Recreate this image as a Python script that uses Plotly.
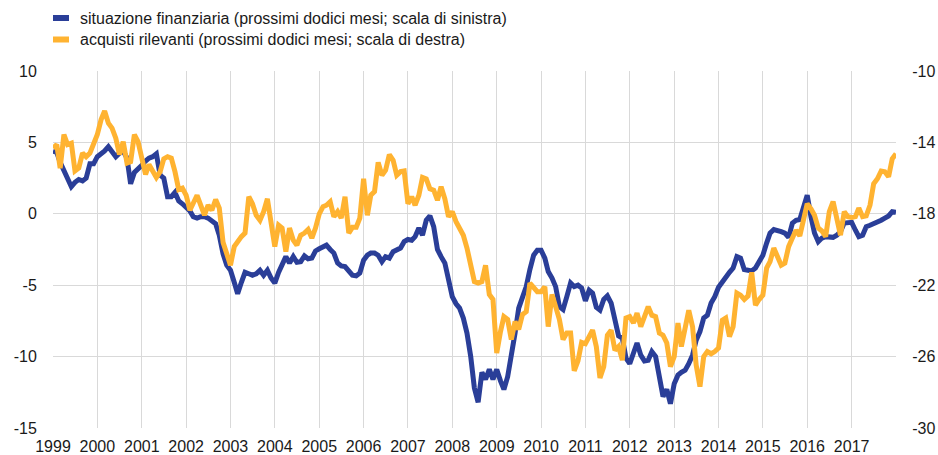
import pandas as pd
import plotly.graph_objects as go

# Monthly observations, January 1999 - January 2018
months = pd.date_range("1999-01-01", "2018-01-01", freq="MS").strftime("%Y-%m-%d").tolist()

# situazione finanziaria (prossimi dodici mesi; scala di sinistra)
situazione = [
    4.4, 4.3, 3.6, 3.0, 2.4, 1.9, 2.2, 2.4, 2.3, 2.5, 3.5, 3.5,
    4.0, 4.2, 4.4, 4.7, 4.4, 4.0, 4.25, 4.4, 3.9, 2.1, 2.9, 3.1,
    3.4, 3.7, 3.9, 4.0, 4.2, 2.7, 2.5, 1.2, 1.2, 1.5, 0.9, 0.7,
    0.5, 0.2, -0.2, -0.3, -0.2, -0.2, -0.3, -0.5, -0.7, -1.5, -2.8, -3.6,
    -3.95, -4.8, -5.6, -4.8, -4.1, -4.2, -4.3, -4.2, -3.95, -4.3, -3.95, -4.5,
    -4.85, -4.1, -3.5, -3.0, -3.45, -3.0, -3.4, -3.35, -2.95, -3.15, -3.1, -2.6,
    -2.45, -2.3, -2.2, -2.5, -2.75, -3.45, -3.65, -3.7, -4.05, -4.3, -4.35, -4.15,
    -3.25, -2.9, -2.75, -2.75, -2.9, -3.35, -3.0, -3.1, -2.65, -2.55, -2.4, -1.95,
    -1.8, -1.85, -1.6, -1.0, -1.5, -0.45, -0.15, -0.9, -2.5, -3.0, -3.45, -4.6,
    -5.8, -6.3, -6.6, -7.3, -8.35, -10.0, -12.2, -13.2, -11.1, -11.6, -10.9, -11.6,
    -10.9, -11.7, -12.3, -11.4, -10.0, -8.35, -6.6, -5.7, -5.1, -3.9, -2.9, -2.55,
    -2.55, -3.1, -4.05, -4.5, -5.1, -6.5, -6.7, -5.8, -4.85, -5.1, -5.0, -5.2,
    -6.1, -5.35, -5.55, -6.55, -6.75, -6.0, -5.75, -6.25, -7.45, -8.55, -8.7, -10.1,
    -10.5, -9.65, -9.05, -9.9, -10.3, -10.25, -9.65, -10.0, -11.6, -12.8, -12.3, -13.3,
    -11.9, -11.3, -11.1, -10.95, -10.5, -9.9, -8.85, -8.25, -7.3, -7.1, -6.25, -5.8,
    -5.15, -4.75, -4.5, -4.1, -3.8, -3.0, -3.1, -3.9, -3.95, -4.0, -3.8, -3.4,
    -2.9, -2.05, -1.35, -1.1, -1.15, -1.25, -1.35, -1.65, -0.65, -0.45, -0.4, 0.5,
    1.3, -0.2, -1.35, -1.95, -1.7, -1.6, -1.65, -1.65, -1.5, -1.25, -0.65, -0.6,
    -0.6, -1.15, -1.6, -1.5, -0.9, -0.8, -0.7, -0.55, -0.45, -0.3, -0.15, 0.15,
    0.1,
]

# acquisti rilevanti (prossimi dodici mesi; scala di destra)
acquisti = [
    -14.32, -14.12, -15.44, -13.56, -14.12, -14.04, -15.6, -15.44, -14.6, -14.8, -14.6, -14.12,
    -13.56, -12.72, -12.24, -12.92, -13.2, -13.76, -14.68, -13.96, -15.16, -15.08, -13.56, -13.96,
    -14.8, -15.8, -15.24, -15.64, -15.96, -15.64, -14.92, -14.8, -14.88, -15.64, -16.64, -16.56,
    -16.96, -17.8, -17.32, -16.96, -17.52, -18.08, -17.52, -17.8, -17.2, -17.68, -19.6, -20.24,
    -20.88, -19.84, -19.56, -19.28, -19.08, -17.04, -17.44, -18.08, -18.36, -17.88, -17.16, -18.36,
    -19.84, -18.64, -18.8, -20.12, -18.8, -19.48, -19.76, -19.2, -19.08, -18.88, -19.36, -18.8,
    -18.0, -17.6, -17.52, -17.32, -18.16, -17.88, -18.24, -17.04, -19.08, -18.76, -18.76, -18.24,
    -16.04, -18.08, -16.96, -16.76, -15.12, -15.84, -15.56, -14.68, -15.0, -15.84, -15.64, -15.6,
    -17.44, -17.04, -17.52, -16.96, -15.96, -16.04, -16.6, -16.68, -17.24, -16.48, -17.16, -18.16,
    -17.88, -18.44, -18.8, -19.2, -19.92, -20.76, -21.8, -21.88, -21.8, -20.88, -22.52, -22.8,
    -25.8, -24.6, -23.76, -23.92, -25.04, -24.04, -24.48, -23.64, -23.48, -21.88, -22.16, -22.36,
    -22.36, -22.08, -24.32, -22.52, -23.2, -23.92, -25.04, -24.68, -24.68, -26.8, -26.24, -25.2,
    -25.28, -24.88, -24.52, -25.44, -27.2, -26.56, -24.8, -24.52, -25.64, -25.44, -26.2, -23.84,
    -23.76, -24.12, -23.56, -24.32, -23.68, -23.2, -23.68, -23.76, -24.68, -24.8, -25.24, -26.56,
    -26.0, -24.12, -25.44, -24.4, -23.4, -24.32, -26.48, -27.68, -26.0, -25.72, -25.84, -25.72,
    -25.52, -23.96, -23.84, -24.88, -24.32, -22.44, -22.56, -22.8, -22.6, -21.28, -23.12, -22.8,
    -22.56, -21.04, -20.68, -19.92, -20.32, -20.88, -20.76, -19.84, -19.36, -18.92, -19.24, -18.36,
    -17.44, -17.72, -18.08, -18.8, -18.96, -19.28, -17.88, -17.32, -18.36, -19.2, -17.88, -18.16,
    -18.2, -18.16, -17.68, -18.16, -18.12, -17.52, -16.32, -16.04, -15.6, -15.64, -15.92, -14.92,
    -14.64,
]

series_names = [
    "situazione finanziaria (prossimi dodici mesi; scala di sinistra)",
    "acquisti rilevanti (prossimi dodici mesi; scala di destra)",
]

year_ticks = [f"{y}-01-01" for y in range(1999, 2019)]
year_labels = [str(y) for y in range(1999, 2018)] + [""]
left_ticks = [-15, -10, -5, 0, 5, 10]
right_ticks = [-30, -26, -22, -18, -14, -10]

BLUE = "#2a3e98"
ORANGE = "#ffb331"
GRID = "#d9d9d9"
TEXT = "#1a1a1a"
FONT = "Liberation Sans, Arial, sans-serif"

# plot area in pixels
W, H = 938, 455
L, R, T, B = 53, 42, 71, 27
PW, PH = W - L - R, H - T - B


def px_x(x):
    return (x - L) / PW


def px_y(y):
    return (H - B - y) / PH


fig = go.Figure()
fig.add_trace(go.Scatter(
    x=months, y=situazione, mode="lines", name=series_names[0],
    line=dict(color=BLUE, width=5), yaxis="y", showlegend=False,
))
fig.add_trace(go.Scatter(
    x=months, y=acquisti, mode="lines", name=series_names[1],
    line=dict(color=ORANGE, width=5), yaxis="y2", showlegend=False,
))

# legend drawn as swatches + text
shapes = []
annotations = []
for name, color, yc in [(series_names[0], BLUE, 18), (series_names[1], ORANGE, 39.5)]:
    shapes.append(dict(
        type="rect", xref="paper", yref="paper",
        x0=px_x(53), x1=px_x(69), y0=px_y(yc - 3), y1=px_y(yc + 3),
        fillcolor=color, line=dict(width=0),
    ))
    annotations.append(dict(
        xref="paper", yref="paper", x=px_x(78), y=px_y(yc),
        xanchor="left", yanchor="middle", showarrow=False,
        text=name, font=dict(size=16, color=TEXT, family=FONT),
    ))

fig.update_layout(
    width=W, height=H,
    margin=dict(l=L, r=R, t=T, b=B, autoexpand=False),
    paper_bgcolor="white", plot_bgcolor="white",
    font=dict(family=FONT, size=16, color=TEXT),
    showlegend=False,
    hovermode=False,
    shapes=shapes,
    annotations=annotations,
    xaxis=dict(
        type="date", range=["1999-01-01", "2018-01-01"],
        tickvals=year_ticks, ticktext=year_labels,
        showgrid=True, gridcolor=GRID, gridwidth=1,
        zeroline=False, showline=False,
        ticks="outside", ticklen=4, tickcolor="rgba(0,0,0,0)",
        tickfont=dict(size=16),
    ),
    yaxis=dict(
        range=[-15, 10], tickvals=left_ticks,
        ticktext=[str(v) for v in left_ticks],
        showgrid=True, gridcolor=GRID, gridwidth=1,
        zeroline=False, showline=False,
        ticks="outside", ticklen=12, tickcolor="rgba(0,0,0,0)",
        tickfont=dict(size=16),
    ),
    yaxis2=dict(
        range=[-30, -10], tickvals=right_ticks,
        ticktext=[str(v) for v in right_ticks],
        overlaying="y", side="right",
        showgrid=False, zeroline=False, showline=False,
        ticks="outside", ticklen=12, tickcolor="rgba(0,0,0,0)",
        tickfont=dict(size=16),
    ),
)

fig.write_html(
    "out.html",
    config={"displayModeBar": False},
    post_script="document.body.style.margin='0px';document.body.style.padding='0px';",
)
